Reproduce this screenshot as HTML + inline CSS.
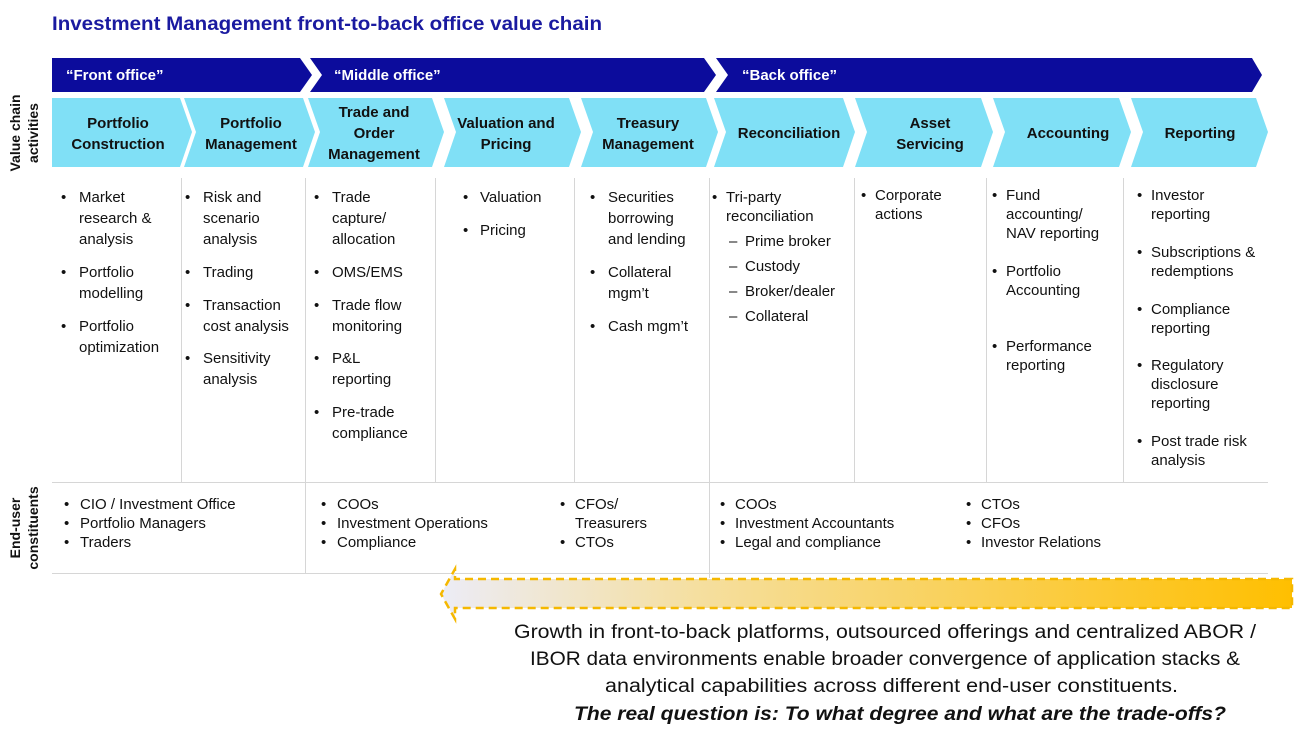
<!DOCTYPE html>
<html><head><meta charset="utf-8"><style>
html,body{margin:0;padding:0;background:#fff}
svg{display:block}
text{font-family:"Liberation Sans",sans-serif}
.b{font-size:15px;fill:#111}
.h{font-size:15px;font-weight:bold;fill:#111}
</style></head><body>
<svg width="1306" height="752" viewBox="0 0 1306 752" xmlns="http://www.w3.org/2000/svg">
<defs>
<linearGradient id="g" x1="0" x2="1" y1="0" y2="0">
<stop offset="0" stop-color="#ececf6"/><stop offset="0.3" stop-color="#f5dfa0"/><stop offset="1" stop-color="#ffbf00"/>
</linearGradient>
</defs>
<text x="52" y="30" font-size="19" font-weight="bold" fill="#1a1aa0" textLength="550" lengthAdjust="spacingAndGlyphs">Investment Management front-to-back office value chain</text>

<!-- dark row -->
<g fill="#0c0c9c">
<polygon points="52,58 300,58 312,75 300,92 52,92"/>
<polygon points="310,58 704,58 716,75 704,92 310,92 322,75"/>
<polygon points="716,58 1252,58 1262,75 1252,92 716,92 728,75"/>
</g>
<g fill="#fff" font-size="15" font-weight="bold">
<text x="66" y="80">“Front office”</text>
<text x="334" y="80">“Middle office”</text>
<text x="742" y="80">“Back office”</text>
</g>

<!-- light row -->
<g fill="#80e0f6">
<polygon points="52,98 180,98 192,132 180,167 52,167"/>
<polygon points="184,98 303,98 315,132 303,167 184,167 196,132"/>
<polygon points="308,98 432,98 444,132 432,167 308,167 320,132"/>
<polygon points="444,98 569,98 581,132 569,167 444,167 456,132"/>
<polygon points="581,98 706,98 718,132 706,167 581,167 593,132"/>
<polygon points="714,98 843,98 855,132 843,167 714,167 726,132"/>
<polygon points="855,98 981,98 993,132 981,167 855,167 867,132"/>
<polygon points="993,98 1119,98 1131,132 1119,167 993,167 1005,132"/>
<polygon points="1131,98 1256,98 1268,132 1256,167 1131,167 1143,132"/>
</g>
<g class="h" text-anchor="middle">
<text class="h" x="118" y="128">Portfolio</text><text class="h" x="118" y="149">Construction</text>
<text class="h" x="251" y="128">Portfolio</text><text class="h" x="251" y="149">Management</text>
<text class="h" x="374" y="117">Trade and</text><text class="h" x="374" y="138">Order</text><text class="h" x="374" y="159">Management</text>
<text class="h" x="506" y="128">Valuation and</text><text class="h" x="506" y="149">Pricing</text>
<text class="h" x="648" y="128">Treasury</text><text class="h" x="648" y="149">Management</text>
<text class="h" x="789" y="138">Reconciliation</text>
<text class="h" x="930" y="128">Asset</text><text class="h" x="930" y="149">Servicing</text>
<text class="h" x="1068" y="138">Accounting</text>
<text class="h" x="1200" y="138">Reporting</text>
</g>

<!-- side labels -->
<g font-size="14" font-weight="bold" fill="#111" text-anchor="middle">
<text transform="translate(20,133) rotate(-90)">Value chain</text>
<text transform="translate(38,133) rotate(-90)">activities</text>
<text transform="translate(20,528) rotate(-90)">End-user</text>
<text transform="translate(38,528) rotate(-90)">constituents</text>
</g>

<!-- grid lines -->
<g stroke="#d6d6d6" stroke-width="1">
<line x1="181.5" y1="178" x2="181.5" y2="482"/>
<line x1="305.5" y1="178" x2="305.5" y2="573"/>
<line x1="435.5" y1="178" x2="435.5" y2="482"/>
<line x1="574.5" y1="178" x2="574.5" y2="482"/>
<line x1="709.5" y1="178" x2="709.5" y2="578"/>
<line x1="854.5" y1="178" x2="854.5" y2="482"/>
<line x1="986.5" y1="178" x2="986.5" y2="482"/>
<line x1="1123.5" y1="178" x2="1123.5" y2="482"/>
<line x1="52" y1="482.5" x2="1268" y2="482.5"/>
<line x1="52" y1="573.5" x2="1268" y2="573.5"/>
</g>

<g class="b">
<!-- col1 -->
<text class="b" x="61" y="202">•</text><text class="b" x="79" y="202">Market</text><text class="b" x="79" y="223">research &amp;</text><text class="b" x="79" y="244">analysis</text>
<text class="b" x="61" y="277">•</text><text class="b" x="79" y="277">Portfolio</text><text class="b" x="79" y="298">modelling</text>
<text class="b" x="61" y="331">•</text><text class="b" x="79" y="331">Portfolio</text><text class="b" x="79" y="352">optimization</text>
<!-- col2 -->
<text class="b" x="185" y="202">•</text><text class="b" x="203" y="202">Risk and</text><text class="b" x="203" y="223">scenario</text><text class="b" x="203" y="244">analysis</text>
<text class="b" x="185" y="277">•</text><text class="b" x="203" y="277">Trading</text>
<text class="b" x="185" y="310">•</text><text class="b" x="203" y="310">Transaction</text><text class="b" x="203" y="331">cost analysis</text>
<text class="b" x="185" y="363">•</text><text class="b" x="203" y="363">Sensitivity</text><text class="b" x="203" y="384">analysis</text>
<!-- col3 -->
<text class="b" x="314" y="202">•</text><text class="b" x="332" y="202">Trade</text><text class="b" x="332" y="223">capture/</text><text class="b" x="332" y="244">allocation</text>
<text class="b" x="314" y="277">•</text><text class="b" x="332" y="277">OMS/EMS</text>
<text class="b" x="314" y="310">•</text><text class="b" x="332" y="310">Trade flow</text><text class="b" x="332" y="331">monitoring</text>
<text class="b" x="314" y="363">•</text><text class="b" x="332" y="363">P&amp;L</text><text class="b" x="332" y="384">reporting</text>
<text class="b" x="314" y="417">•</text><text class="b" x="332" y="417">Pre-trade</text><text class="b" x="332" y="438">compliance</text>
<!-- col4 -->
<text class="b" x="463" y="202">•</text><text class="b" x="480" y="202">Valuation</text>
<text class="b" x="463" y="235">•</text><text class="b" x="480" y="235">Pricing</text>
<!-- col5 -->
<text class="b" x="590" y="202">•</text><text class="b" x="608" y="202">Securities</text><text class="b" x="608" y="223">borrowing</text><text class="b" x="608" y="244">and lending</text>
<text class="b" x="590" y="277">•</text><text class="b" x="608" y="277">Collateral</text><text class="b" x="608" y="298">mgm’t</text>
<text class="b" x="590" y="331">•</text><text class="b" x="608" y="331">Cash mgm’t</text>
<!-- col6 -->
<text class="b" x="712" y="202">•</text><text class="b" x="726" y="202">Tri-party</text><text class="b" x="726" y="221">reconciliation</text>
<text class="b" x="729" y="246">–</text><text class="b" x="745" y="246">Prime broker</text>
<text class="b" x="729" y="271">–</text><text class="b" x="745" y="271">Custody</text>
<text class="b" x="729" y="296">–</text><text class="b" x="745" y="296">Broker/dealer</text>
<text class="b" x="729" y="321">–</text><text class="b" x="745" y="321">Collateral</text>
<!-- col7 -->
<text class="b" x="861" y="200">•</text><text class="b" x="875" y="200">Corporate</text><text class="b" x="875" y="219">actions</text>
<!-- col8 -->
<text class="b" x="992" y="200">•</text><text class="b" x="1006" y="200">Fund</text><text class="b" x="1006" y="219">accounting/</text><text class="b" x="1006" y="238">NAV reporting</text>
<text class="b" x="992" y="276">•</text><text class="b" x="1006" y="276">Portfolio</text><text class="b" x="1006" y="295">Accounting</text>
<text class="b" x="992" y="351">•</text><text class="b" x="1006" y="351">Performance</text><text class="b" x="1006" y="370">reporting</text>
<!-- col9 -->
<text class="b" x="1137" y="200">•</text><text class="b" x="1151" y="200">Investor</text><text class="b" x="1151" y="219">reporting</text>
<text class="b" x="1137" y="257">•</text><text class="b" x="1151" y="257">Subscriptions &amp;</text><text class="b" x="1151" y="276">redemptions</text>
<text class="b" x="1137" y="314">•</text><text class="b" x="1151" y="314">Compliance</text><text class="b" x="1151" y="333">reporting</text>
<text class="b" x="1137" y="370">•</text><text class="b" x="1151" y="370">Regulatory</text><text class="b" x="1151" y="389">disclosure</text><text class="b" x="1151" y="408">reporting</text>
<text class="b" x="1137" y="446">•</text><text class="b" x="1151" y="446">Post trade risk</text><text class="b" x="1151" y="465">analysis</text>

<!-- lower -->
<text class="b" x="64" y="509">•</text><text class="b" x="80" y="509">CIO / Investment Office</text>
<text class="b" x="64" y="528">•</text><text class="b" x="80" y="528">Portfolio Managers</text>
<text class="b" x="64" y="547">•</text><text class="b" x="80" y="547">Traders</text>
<text class="b" x="321" y="509">•</text><text class="b" x="337" y="509">COOs</text>
<text class="b" x="321" y="528">•</text><text class="b" x="337" y="528">Investment Operations</text>
<text class="b" x="321" y="547">•</text><text class="b" x="337" y="547">Compliance</text>
<text class="b" x="560" y="509">•</text><text class="b" x="575" y="509">CFOs/</text>
<text class="b" x="575" y="528">Treasurers</text>
<text class="b" x="560" y="547">•</text><text class="b" x="575" y="547">CTOs</text>
<text class="b" x="720" y="509">•</text><text class="b" x="735" y="509">COOs</text>
<text class="b" x="720" y="528">•</text><text class="b" x="735" y="528">Investment Accountants</text>
<text class="b" x="720" y="547">•</text><text class="b" x="735" y="547">Legal and compliance</text>
<text class="b" x="966" y="509">•</text><text class="b" x="981" y="509">CTOs</text>
<text class="b" x="966" y="528">•</text><text class="b" x="981" y="528">CFOs</text>
<text class="b" x="966" y="547">•</text><text class="b" x="981" y="547">Investor Relations</text>
</g>

<!-- arrow -->
<polygon points="1292,579 455,579 455,569 441,594 455,619 455,608 1292,608" fill="url(#g)" stroke="#f5b800" stroke-width="2.5" stroke-dasharray="8,5"/>

<g font-size="19" fill="#111">
<text x="514" y="638" textLength="742" lengthAdjust="spacingAndGlyphs">Growth in front-to-back platforms, outsourced offerings and centralized ABOR /</text>
<text x="530" y="665" textLength="710" lengthAdjust="spacingAndGlyphs">IBOR data environments enable broader convergence of application stacks &amp;</text>
<text x="605" y="692" textLength="573" lengthAdjust="spacingAndGlyphs">analytical capabilities across different end-user constituents.</text>
<text x="574" y="720" textLength="652" lengthAdjust="spacingAndGlyphs" font-weight="bold" font-style="italic">The real question is: To what degree and what are the trade-offs?</text>
</g>
</svg>
</body></html>
